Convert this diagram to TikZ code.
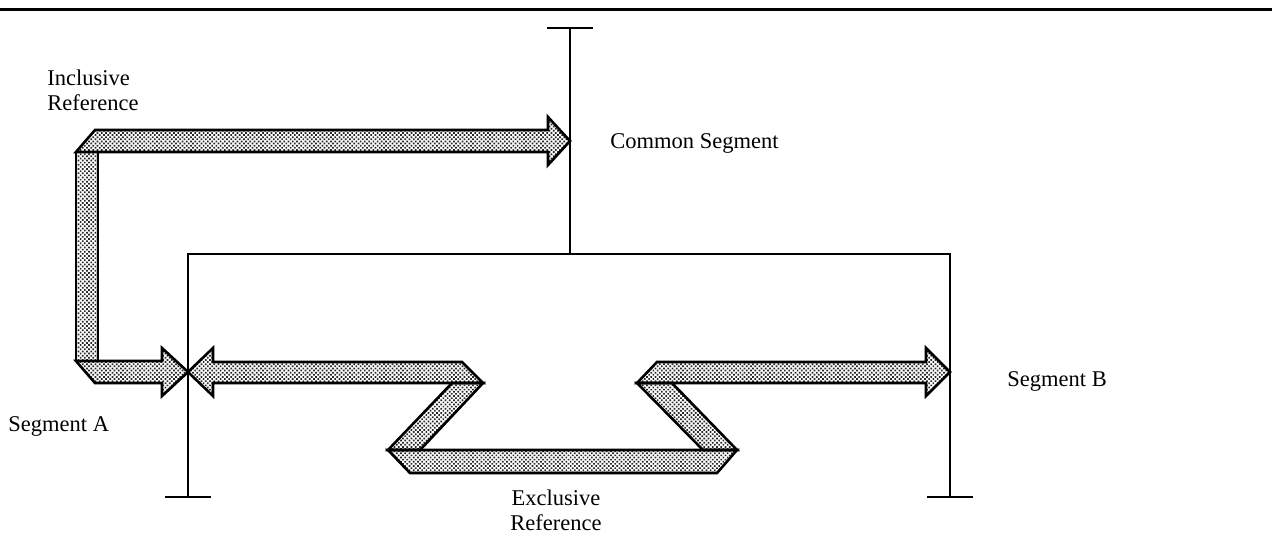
\documentclass[tikz,border=0pt]{standalone}
\usepackage{fontspec}
\setmainfont{Liberation Serif}
\usepackage{tikz}
\usetikzlibrary{patterns.meta}

\begin{document}
\begin{tikzpicture}[x=10pt, y=-10pt,
    band/.style={draw, line width=1.3pt, line join=miter,
      pattern={Dots[distance=1.5pt, radius=0.6pt, angle=45]}, pattern color=black!85},
    segline/.style={line width=1.1pt},
    lbl/.style={inner sep=0pt, font=\fontsize{11.25}{12.5}\selectfont}]
    \useasboundingbox (0, 0) rectangle (63.6, 26.8);

    % rule at the top
    \draw [line width=1.5pt] (0, 0.45) -- (63.6, 0.45);

    % segments
    \draw [segline] (28.5, 12.7) -- (28.5, 1.4);
    \draw [segline] (27.35, 1.4) -- (29.65, 1.4);
    \draw [segline] (9.4, 24.85) -- (9.4, 12.7) -- (47.5, 12.7) -- (47.5, 24.85);
    \draw [segline] (8.25, 24.85) -- (10.55, 24.85);
    \draw [segline] (46.35, 24.85) -- (48.65, 24.85);

    \node [lbl, anchor=west] (common) at (30.5, 7.15) {Common Segment};
    \node [lbl, anchor=west] (sega) at (0.4, 21.3) {Segment A};
    \node [lbl, anchor=west] (segb) at (50.35, 19.05) {Segment B};

    % inclusive reference
    \draw [band] (3.8, 7.6) rectangle (4.9, 18.05);
    \draw [band] (3.8, 7.6) -- (4.75, 6.5) -- (27.4, 6.5) -- (27.4, 5.85)
      -- (28.5, 7.05) -- (27.4, 8.25) -- (27.4, 7.6) -- cycle;
    \draw [band] (3.8, 18.05) -- (8.1, 18.05) -- (8.1, 17.4) -- (9.4, 18.6)
      -- (8.1, 19.8) -- (8.1, 19.15) -- (4.75, 19.15) -- cycle;
    \node [lbl, anchor=west, align=left] (inclref) at (2.35, 4.525)
      {Inclusive\\Reference};

    % exclusive reference
    \draw [band] (9.4, 18.6) -- (10.65, 17.4) -- (10.65, 18.1) -- (23.1, 18.1)
      -- (24.15, 19.15) -- (10.65, 19.15) -- (10.65, 19.8) -- cycle;
    \draw [band] (22.6, 19.15) -- (24.15, 19.15) -- (21.0, 22.5) -- (19.4, 22.5) -- cycle;
    \draw [band] (19.4, 22.5) -- (36.85, 22.5) -- (35.85, 23.65) -- (20.5, 23.65) -- cycle;
    \draw [band] (31.85, 19.15) -- (33.6, 19.15) -- (36.85, 22.5) -- (35.15, 22.5) -- cycle;
    \draw [band] (31.85, 19.15) -- (32.85, 18.1) -- (46.3, 18.1) -- (46.3, 17.4)
      -- (47.5, 18.6) -- (46.3, 19.8) -- (46.3, 19.15) -- cycle;
    \node [lbl, align=center] (exclref) at (27.8, 25.525) {Exclusive\\Reference};

  \end{tikzpicture}
\end{document}
